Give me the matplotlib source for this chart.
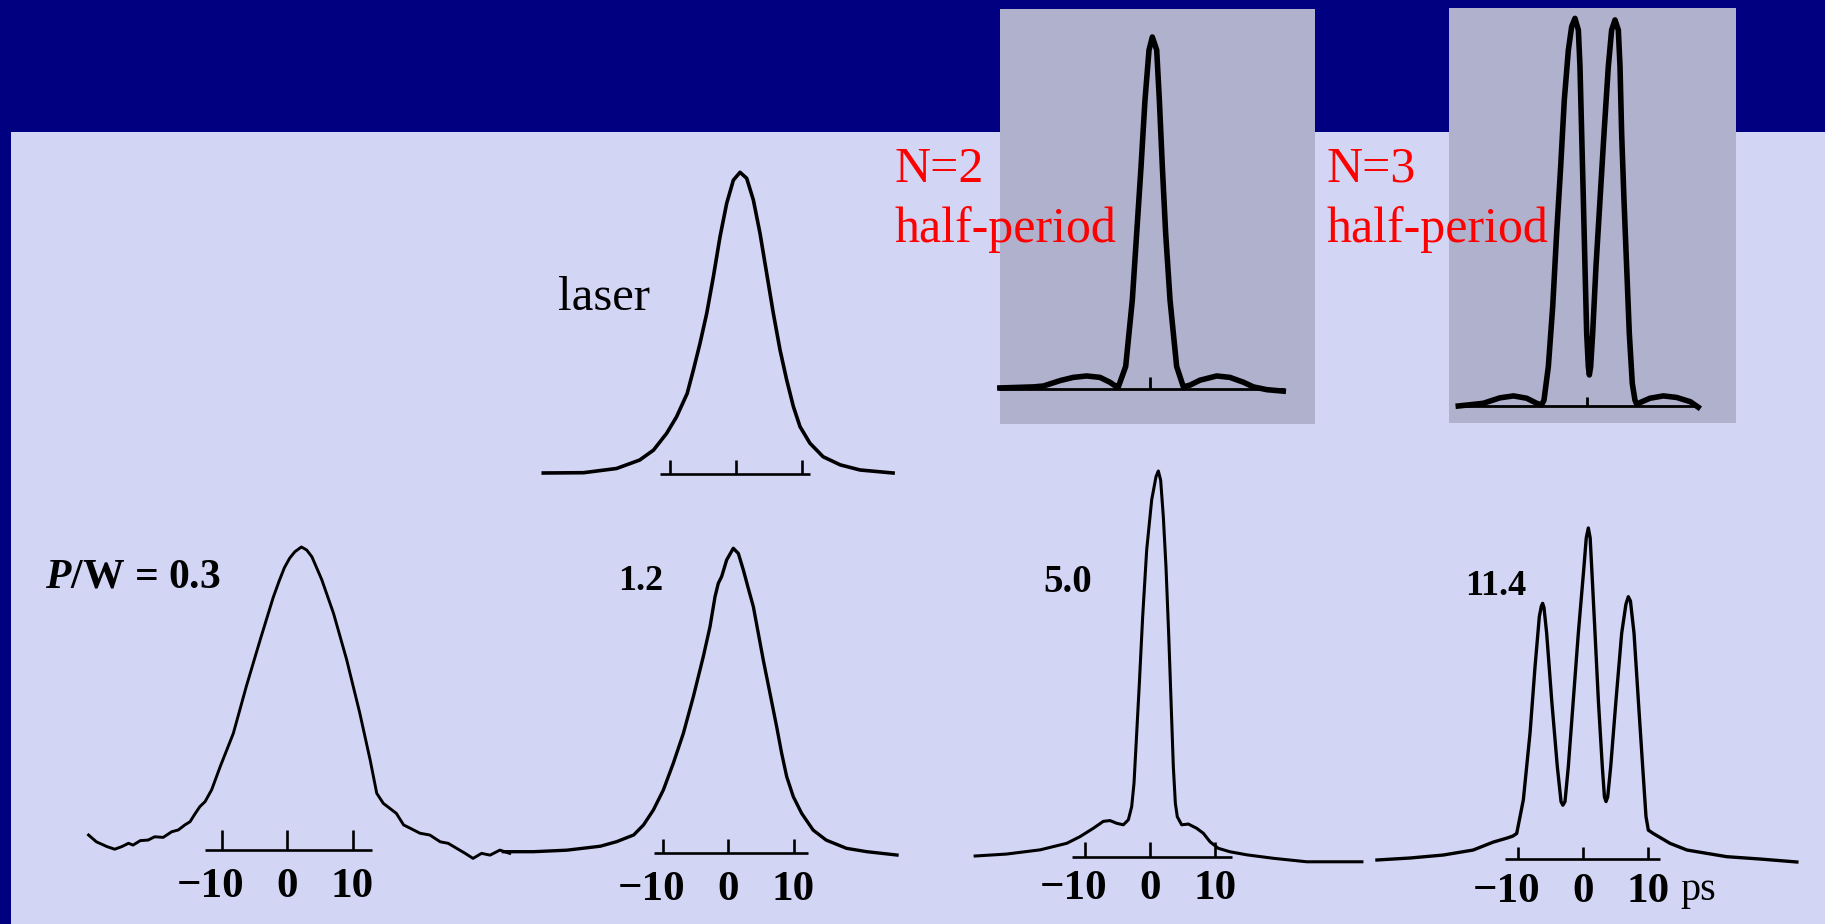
import numpy as np
import matplotlib.pyplot as plt
from matplotlib.patches import Rectangle

'''
Soliton pulse shapes at increasing input power (fibre experiment),
with the theoretical N=2 / N=3 half-period profiles as insets
'''

plt.rcParams['mathtext.fontset'] = 'custom'
plt.rcParams['mathtext.it'] = 'Liberation Serif:bold:italic'
plt.rcParams['mathtext.rm'] = 'Liberation Serif:bold'

# ---- data: time in ps, intensity normalised to the peak ----
t_p03 = [-30.3, -29.1, -27.5, -26.3, -25.2, -24.2, -23.5, -22.4, -21.2, -20.2, -18.9,
         -17.6, -16.6, -15.6, -14.8, -14.0, -13.3, -12.5, -11.5, -10.2, -8.2, -6.2,
         -4.1, -2.1, -1.2, -0.4, 0.4, 1.2, 2.2, 3.0, 3.8, 5.3, 7.1, 9.1, 11.1, 12.7, 13.7,
         14.7, 15.7, 16.7, 17.8, 18.8, 20.3, 21.8, 23.4, 24.6, 25.9, 27.2, 28.4, 29.7,
         31.0, 32.5, 34.0]
i_p03 = [0.027, 0.004, -0.012, -0.021, -0.012, -0.001, -0.007, 0.008, 0.010, 0.021, 0.019,
         0.038, 0.044, 0.061, 0.072, 0.100, 0.123, 0.140, 0.180, 0.258, 0.370, 0.530,
         0.686, 0.830, 0.885, 0.930, 0.962, 0.984, 1.000, 0.990, 0.967, 0.890, 0.776, 0.620,
         0.440, 0.280, 0.168, 0.134, 0.117, 0.100, 0.061, 0.050, 0.033, 0.027, 0.004,
         -0.001, -0.018, -0.035, -0.052, -0.035, -0.041, -0.024, -0.035]

t_laser = [-29.2, -23.1, -18.1, -14.6, -12.5, -10.5, -9.0, -7.4, -6.46, -5.45, -4.44, -3.43,
           -2.42, -1.41, -0.4, 0.61, 1.62, 2.63, 3.64, 4.65, 5.66, 6.67, 7.68, 8.69, 9.7,
           11.2, 13.2, 15.8, 18.8, 23.8]
i_laser = [0.0, 0.001, 0.015, 0.043, 0.076, 0.132, 0.187, 0.264, 0.342, 0.431, 0.530, 0.652,
           0.785, 0.896, 0.973, 0.999, 0.979, 0.907, 0.796, 0.663, 0.530, 0.409, 0.309, 0.221,
           0.154, 0.099, 0.054, 0.027, 0.010, 0.0]

t_p12 = [-34.3, -29.7, -24.6, -19.5, -17.0, -14.4, -12.9, -11.4, -9.87, -8.35, -6.82, -5.29,
         -3.77, -2.75, -1.98, -1.48, -0.97, -0.2, 0.81, 1.58, 2.34, 3.1, 3.87, 4.63, 5.39,
         6.41, 7.43, 8.19, 8.96, 9.97, 11.25, 13.0, 15.0, 18.1, 21.2, 25.8]
i_p12 = [0.001, 0.001, 0.006, 0.019, 0.034, 0.056, 0.089, 0.138, 0.204, 0.292, 0.390, 0.511,
         0.643, 0.741, 0.840, 0.884, 0.906, 0.961, 0.999, 0.982, 0.928, 0.867, 0.807, 0.719,
         0.631, 0.522, 0.412, 0.325, 0.248, 0.182, 0.127, 0.072, 0.039, 0.012, 0.001, -0.010]

t_p50 = [-26.9, -22.1, -16.9, -12.8, -10.8, -8.72, -7.18, -6.15, -5.13, -4.1, -3.33, -2.82,
         -2.46, -2.05, -1.64, -1.13, -0.51, 0.26, 0.92, 1.28, 1.64, 2.05, 2.46, 2.87, 3.23,
         3.59, 3.9, 4.2, 4.87, 5.9, 7.18, 8.21, 9.23, 10.5, 12.3, 14.9, 19.0, 24.1, 29.2, 32.6]
i_p50 = [0.0, 0.005, 0.016, 0.033, 0.050, 0.072, 0.090, 0.092, 0.085, 0.081, 0.094, 0.128,
         0.189, 0.318, 0.448, 0.621, 0.795, 0.925, 0.985, 1.0, 0.976, 0.881, 0.751, 0.578,
         0.405, 0.232, 0.137, 0.102, 0.081, 0.083, 0.072, 0.059, 0.037, 0.020, 0.011, 0.003,
         -0.006, -0.015, -0.015, -0.015]

t_p114 = [-31.7, -26.6, -21.5, -16.9, -13.8, -11.7, -10.8, -10.2, -9.18, -8.15, -7.38,
          -6.72, -6.4, -6.21, -6.0, -5.59, -4.82, -3.95, -3.38, -3.1, -2.77, -2.26, -1.49,
          -0.72, 0.15, 0.5, 0.82, 1.1, 1.33, 1.85, 2.36, 2.97, 3.3, 3.54, 3.8, 4.26, 5.08,
          5.95, 6.6, 6.97, 7.3, 7.85, 8.51, 9.18, 9.69, 10.05, 10.8, 13.4, 16.0, 22.1, 27.2,
          32.9]
i_p114 = [0.0, 0.006, 0.015, 0.030, 0.054, 0.066, 0.072, 0.080, 0.181, 0.382, 0.582,
          0.733, 0.765, 0.773, 0.760, 0.683, 0.482, 0.281, 0.176, 0.165, 0.176, 0.281, 0.482,
          0.683, 0.884, 0.970, 1.0, 0.970, 0.884, 0.683, 0.482, 0.281, 0.190, 0.176, 0.190,
          0.281, 0.482, 0.683, 0.770, 0.793, 0.780, 0.683, 0.482, 0.281, 0.131, 0.090, 0.080,
          0.050, 0.030, 0.010, 0.003, -0.006]

t_n2 = [-23.1, -17.9, -16.4, -13.8, -11.8, -9.74, -7.69, -6.15, -5.13, -4.87, -3.74, -2.72,
        -2.05, -1.38, -0.77, -0.15, 0.36, 1.03, 1.44, 1.9, 2.41, 3.08, 4.1, 5.13, 6.15,
        7.69, 10.26, 12.3, 14.4, 15.9, 18.0, 20.5]
i_n2 = [0.003, 0.006, 0.0085, 0.024, 0.033, 0.037, 0.033, 0.019, 0.006, 0.006, 0.064, 0.253,
        0.442, 0.631, 0.821, 0.963, 1.0, 0.963, 0.821, 0.631, 0.442, 0.253, 0.064, 0.006,
        0.011, 0.025, 0.037, 0.033, 0.019, 0.006, -0.002, -0.006]

t_n3 = [-19.8, -15.95, -13.4, -11.3, -9.28, -7.74, -6.97, -6.62, -5.95, -5.28, -4.67, -4.05,
        -3.49, -2.87, -2.36, -1.85, -1.33, -1.08, -0.82, -0.56, -0.31, -0.05, 0.21, 0.36,
        0.56, 0.87, 1.38, 2.0, 2.62, 3.28, 3.79, 4.31, 4.82, 5.08, 5.33, 5.69, 6.1, 6.51,
        6.97, 7.38, 7.64, 9.69, 11.74, 13.8, 15.9, 17.1]
i_n3 = [0.0, 0.007, 0.021, 0.026, 0.020, 0.007, 0.003, 0.015, 0.101, 0.255, 0.445, 0.617,
        0.789, 0.917, 0.978, 0.999, 0.969, 0.875, 0.703, 0.531, 0.359, 0.187, 0.101, 0.080,
        0.101, 0.187, 0.359, 0.531, 0.703, 0.875, 0.969, 0.995, 0.969, 0.875, 0.703, 0.531,
        0.359, 0.187, 0.058, 0.015, 0.005, 0.020, 0.026, 0.022, 0.011, -0.003]

tick_vals = [-10, 0, 10]
tick_labels = ['\u221210', '0', '10']
power_labels = ['$P$/W = 0.3', '1.2', '5.0', '11.4']

# ---- figure ----
W, H = 1825, 924
NAVY = '#000080'
LIGHT = '#D3D5F5'
INSET = '#B0B1CD'

fig = plt.figure(figsize=(W / 100, H / 100), dpi=100)
fig.patch.set_facecolor(NAVY)

# slide background in pixel coordinates
bg = fig.add_axes([0, 0, 1, 1])
bg.set_xlim(0, W)
bg.set_ylim(H, 0)
bg.axis('off')
bg.add_patch(Rectangle((11, 132), W - 11, H - 132, color=LIGHT, lw=0))
bg.add_patch(Rectangle((1000, 9), 315, 415, color=INSET, lw=0))
bg.add_patch(Rectangle((1449, 8), 287, 415, color=INSET, lw=0))


def panel(x0, y0, sx, sy, xlim=(-40, 40), ylim=(-0.3, 1.1)):
    '''axes whose time 0 sits at pixel x0 and baseline at pixel y0'''
    left = x0 + xlim[0] * sx
    right = x0 + xlim[1] * sx
    top = y0 - ylim[1] * sy
    bottom = y0 - ylim[0] * sy
    ax = fig.add_axes([left / W, 1 - bottom / H, (right - left) / W, (bottom - top) / H])
    ax.set_xlim(xlim)
    ax.set_ylim(ylim)
    ax.axis('off')
    return ax


def time_axis(ax, span, ay, tick_len, label_drop=None, sy=300.0):
    ax.plot(span, [ay, ay], color='black', lw=1.9, solid_capstyle='butt')
    ax.vlines(tick_vals, ay, ay + tick_len / sy, color='black', lw=1.9)
    if label_drop is None:
        return
    for v, lab in zip(tick_vals, tick_labels):
        dx = -8 if lab.startswith('\u2212') else 0
        ax.annotate(lab, xy=(v, ay), xytext=(dx, -label_drop * 0.72),
                    textcoords='offset points', ha='center', va='baseline',
                    fontsize=31, fontweight='bold', family='Liberation Serif')


serif = 'Liberation Serif'

# P/W = 0.3
ax = panel(287, 843, 6.55, 296)
ax.plot(t_p03, i_p03, color='black', lw=2.1, solid_joinstyle='round')
time_axis(ax, [-12.5, 13.0], -0.024, 20, 47, 296)

# laser
ax = panel(736, 473, 6.6, 301)
ax.plot(t_laser, i_laser, color='black', lw=2.6, solid_joinstyle='round')
time_axis(ax, [-11.5, 11.2], -0.003, 14, None, 301)

# 1.2
ax = panel(728, 852, 6.55, 304)
ax.plot(t_p12, i_p12, color='black', lw=2.4, solid_joinstyle='round')
time_axis(ax, [-11.3, 12.2], -0.003, 14, 47, 304)

# 5.0
ax = panel(1150, 856, 6.5, 385)
ax.plot(t_p50, i_p50, color='black', lw=2.2, solid_joinstyle='round')
time_axis(ax, [-12.0, 12.6], -0.003, 15, 42, 385)

# 11.4
ax = panel(1583, 860, 6.5, 332)
ax.plot(t_p114, i_p114, color='black', lw=2.4, solid_joinstyle='round')
time_axis(ax, [-12.0, 11.8], 0.003, 12, 43, 332)

# N=2 inset
ax = panel(1150, 389, 6.5, 352)
ax.plot([t_n2[0], t_n2[-1]], [0, 0], color='black', lw=2.0)
ax.vlines([0], 0, 12 / 352, color='black', lw=2.0)
ax.plot(t_n2, i_n2, color='black', lw=4.0, solid_joinstyle='round')

# N=3 inset
ax = panel(1587, 406, 6.5, 388)
ax.plot([t_n3[0], t_n3[-1]], [0, 0], color='black', lw=2.0)
ax.vlines([0], 0, 9 / 388, color='black', lw=2.0)
ax.plot(t_n3, i_n3, color='black', lw=4.0, solid_joinstyle='round')

# labels (pixel positions on the slide)
bg.text(558, 310, 'laser', fontsize=35, family=serif, va='baseline', ha='left')
bg.text(45, 588, power_labels[0], fontsize=30, family=serif, fontweight='bold',
        va='baseline', ha='left')
bg.text(618, 590, power_labels[1], fontsize=26, family=serif, fontweight='bold',
        va='baseline', ha='left')
bg.text(1043, 592, power_labels[2], fontsize=28, family=serif, fontweight='bold',
        va='baseline', ha='left')
bg.text(1465, 595, power_labels[3], fontsize=26, family=serif, fontweight='bold',
        va='baseline', ha='left')
bg.text(1680, 900, 'ps', fontsize=29, family=serif, va='baseline', ha='left')

bg.text(895, 182, 'N=2', fontsize=36, family=serif, color='red', va='baseline', zorder=5)
bg.text(895, 242, 'half-period', fontsize=36, family=serif, color='red', va='baseline', zorder=5)
bg.text(1327, 182, 'N=3', fontsize=36, family=serif, color='red', va='baseline', zorder=5)
bg.text(1327, 242, 'half-period', fontsize=36, family=serif, color='red', va='baseline', zorder=5)

plt.savefig('out.png', dpi=100, facecolor=fig.get_facecolor())
